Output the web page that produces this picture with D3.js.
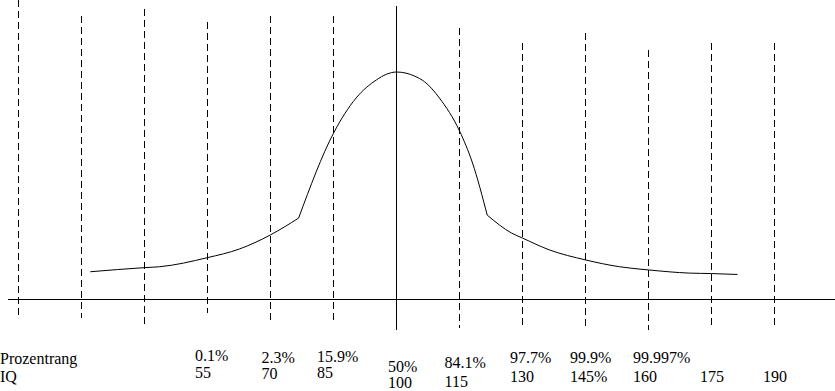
<!DOCTYPE html>
<html>
<head>
<meta charset="utf-8">
<script src="https://cdn.jsdelivr.net/npm/d3@7"></script>
<style>
  body { margin: 0; background: #fff; }
  text { font-family: "Liberation Serif", "DejaVu Serif", "Noto Serif", serif; font-size: 16px; fill: #000; }
</style>
</head>
<body>
<div id="iq-chart"></div>
<script>
// IQ values of the dashed lines (100 is the solid axis)
var gridIQ = [10, 25, 40, 55, 70, 85, 115, 130, 145, 160, 175, 190]
// how far each dashed line reaches up / down (same units as the curve height)
var gridTop = [131.6, 124.8, 127.7, 122, 124.8, 124.8, 119.5, 112.7, 117.1, 109.7, 112.7, 112.7]
var gridBottom = [-7.3, -8.1, -11.2, -5.9, -10.3, -10.3, -12.5, -11.6, -12.5, -13.4, -11.6, -11.6]

// the curve (IQ, relative height), drawn in three pieces
var curveIQ = [27.1, 40, 43.6, 55, 62.6, 70, 76.7, 85, 90.4, 95.2, 97.6, 100, 102.5, 104.3, 106.7, 110.2, 115, 118.1, 121.6, 127.4, 130, 136.4, 145, 153.1, 160, 169.8, 175, 181.2]
var curveHeight = [12.2, 14, 14.4, 18.4, 22.2, 28.4, 35.8, 73.1, 88.6, 96.5, 99, 100, 99.4, 98.2, 95.7, 88.6, 74.1, 60, 37.1, 29.2, 27, 21.8, 17.4, 14.4, 13, 11.6, 11.4, 11]
var curvePieces = [[0, 6], [6, 18], [18, 27]]

// bottom labels
var rowNames = ["Prozentrang", "IQ"]
var labelIQ = [55, 70, 85, 100, 115, 130, 145, 160, 175, 190]
var iqText = ["55", "70", "85", "100", "115", "130", "145%", "160", "175", "190"]
var percentText = ["0.1%", "2.3%", "15.9%", "50%", "84.1%", "97.7%", "99.9%", "99.997%"]

// label layout (hand placed, like the original sketch)
var labelDx = [-12.5, -9, -16.5, -8.5, -15, -12.5, -15.5, -15.5, -11.5, -11.5]
var percentY = [361, 363, 362, 372, 368, 363, 363, 363]
var iqY = [378, 379, 378, 388, 387, 382, 382, 382, 382, 382]

var width = 835
    height = 391

var svg = d3.select("#iq-chart")
  .append("svg")
    .attr("width", width)
    .attr("height", height)

svg.append("rect")
  .attr("width", width)
  .attr("height", height)
  .attr("fill", "#fff")

var x = d3.scaleLinear()
  .domain([10, 190])
  .range([18.5, 774.5])

var y = d3.scaleLinear()
  .domain([0, 100])
  .range([299.5, 72])

// dashed lines
svg.selectAll("gridLines")
  .data(gridIQ)
  .enter()
  .append("line")
    .attr("x1", function(d) { return x(d) })
    .attr("x2", function(d) { return x(d) })
    .attr("y1", function(d, i) { return y(gridTop[i]) })
    .attr("y2", function(d, i) { return y(gridBottom[i]) })
    .attr("stroke", "#000")
    .attr("stroke-width", 1)
    .attr("stroke-dasharray", "7,4")
    .style("shape-rendering", "crispEdges")

// axes
svg.append("line")
  .attr("x1", x(7.6))
  .attr("x2", width)
  .attr("y1", y(0))
  .attr("y2", y(0))
  .attr("stroke", "#000")
  .attr("stroke-width", 1.2)
  .style("shape-rendering", "crispEdges")

svg.append("line")
  .attr("x1", x(100))
  .attr("x2", x(100))
  .attr("y1", y(129))
  .attr("y2", y(-13.4))
  .attr("stroke", "#000")
  .attr("stroke-width", 1.2)
  .style("shape-rendering", "crispEdges")

// the curve: each piece is smooth, the joins are corners
var line = d3.line()
  .curve(d3.curveMonotoneX)
  .x(function(d) { return x(curveIQ[d]) })
  .y(function(d) { return y(curveHeight[d]) })

svg.selectAll("curvePieces")
  .data(curvePieces)
  .enter()
  .append("path")
    .attr("d", function(p) { return line(d3.range(p[0], p[1] + 1)) })
    .attr("fill", "none")
    .attr("stroke", "#000")
    .attr("stroke-width", 1)

// row names
svg.selectAll("rowNames")
  .data(rowNames)
  .enter()
  .append("text")
    .attr("x", 0)
    .attr("y", function(d, i) { return i == 0 ? 364 : 382 })
    .text(function(d) { return d })

// percent row
svg.selectAll("percentLabels")
  .data(percentText)
  .enter()
  .append("text")
    .attr("x", function(d, i) { return x(labelIQ[i]) + labelDx[i] })
    .attr("y", function(d, i) { return percentY[i] })
    .text(function(d) { return d })

// IQ row
svg.selectAll("iqLabels")
  .data(iqText)
  .enter()
  .append("text")
    .attr("x", function(d, i) { return x(labelIQ[i]) + labelDx[i] })
    .attr("y", function(d, i) { return iqY[i] })
    .text(function(d) { return d })
</script>
</body>
</html>
